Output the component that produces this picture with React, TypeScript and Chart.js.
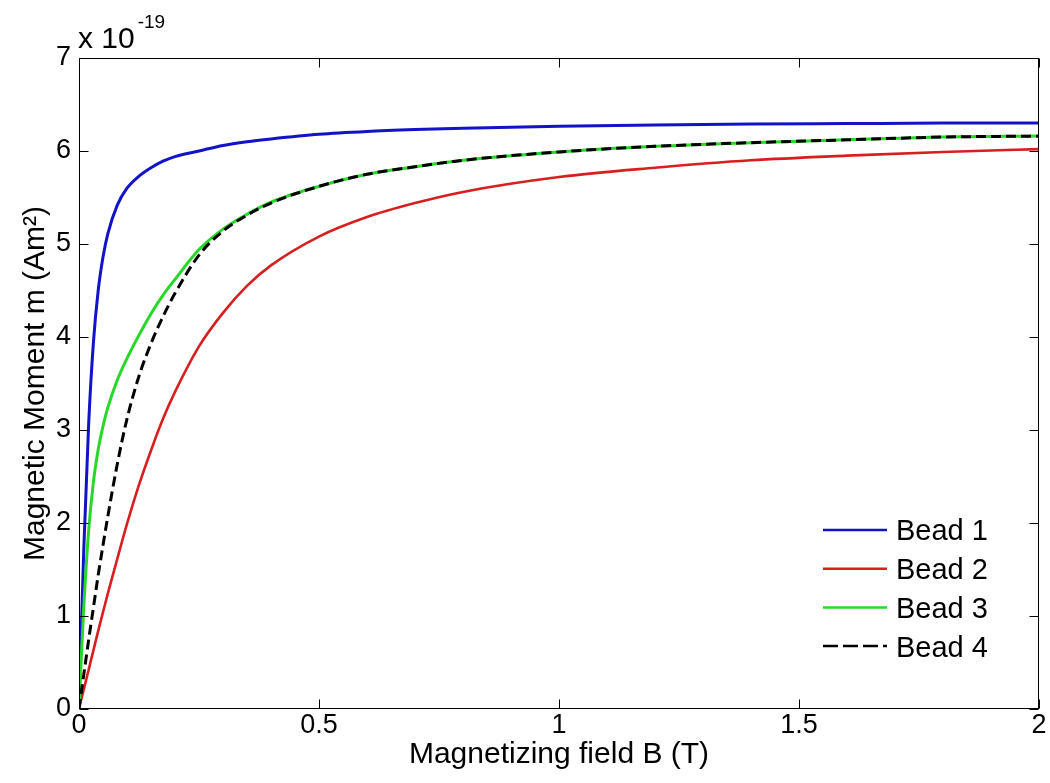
import React, { useEffect, useRef } from "react";
import { Chart, registerables } from "chart.js";

Chart.register(...registerables);

// Magnetizing field B (T)
const fieldB = [
  0, 0.005, 0.01, 0.02, 0.03, 0.04, 0.05, 0.06, 0.08, 0.1, 0.125, 0.15, 0.175, 0.2,
  0.25, 0.3, 0.35, 0.4, 0.5, 0.6, 0.7, 0.8, 1.0, 1.2, 1.4, 1.6, 1.8, 2.0,
];

// Magnetic moment m, in units of 1e-19 A·m²
const bead1 = [
  0, 0.89, 1.72, 3.05, 3.94, 4.5, 4.86, 5.11, 5.42, 5.6, 5.73, 5.82, 5.89, 5.94,
  6.0, 6.06, 6.1, 6.13, 6.18, 6.21, 6.23, 6.245, 6.265, 6.28, 6.29, 6.295, 6.3, 6.3,
];
const bead2 = [
  0, 0.11, 0.21, 0.42, 0.63, 0.84, 1.04, 1.24, 1.62, 1.99, 2.41, 2.78, 3.12, 3.41,
  3.9, 4.26, 4.55, 4.77, 5.08, 5.29, 5.44, 5.56, 5.72, 5.82, 5.9, 5.95, 5.99, 6.02,
];
const bead3 = [
  0, 0.57, 1.1, 1.91, 2.44, 2.79, 3.04, 3.24, 3.54, 3.77, 4.02, 4.25, 4.45, 4.62,
  4.94, 5.16, 5.32, 5.45, 5.62, 5.75, 5.83, 5.9, 5.99, 6.05, 6.09, 6.12, 6.15, 6.16,
];
const bead4 = [
  0, 0.19, 0.37, 0.74, 1.09, 1.44, 1.76, 2.07, 2.64, 3.12, 3.58, 3.93, 4.22, 4.47,
  4.88, 5.14, 5.31, 5.44, 5.62, 5.75, 5.83, 5.9, 5.99, 6.05, 6.09, 6.12, 6.15, 6.16,
];

const seriesLabels = ["Bead 1", "Bead 2", "Bead 3", "Bead 4"];
const xTitle = "Magnetizing field B (T)";
const yTitle = "Magnetic Moment m (Am²)";
const exponentBase = "x 10";
const exponentPower = "-19";

const FONT = '"Liberation Sans", Arial, Helvetica, sans-serif';

const toPoints = (ys: number[]) => fieldB.map((x, i) => ({ x, y: ys[i] }));

// Boxed axes with inward ticks, the exponent note and an in-axes legend
const boxedAxes = {
  id: "boxedAxes",
  afterDraw(chart: any) {
    const { ctx, chartArea: a, scales } = chart;
    ctx.save();
    const L = Math.round(a.left) + 0.5;
    const R = Math.round(a.right) - 0.5;
    const T = Math.round(a.top) + 0.5;
    const B = Math.round(a.bottom) - 0.5;
    ctx.strokeStyle = "#000";
    ctx.lineWidth = 1;
    ctx.strokeRect(L, T, R - L, B - T);

    const tickLen = 9;
    ctx.beginPath();
    scales.x.ticks.forEach((t: any) => {
      const px = Math.round(scales.x.getPixelForValue(t.value)) + 0.5;
      ctx.moveTo(px, B);
      ctx.lineTo(px, B - tickLen);
      ctx.moveTo(px, T);
      ctx.lineTo(px, T + tickLen);
    });
    scales.y.ticks.forEach((t: any) => {
      const py = Math.round(scales.y.getPixelForValue(t.value)) + 0.5;
      ctx.moveTo(L, py);
      ctx.lineTo(L + tickLen, py);
      ctx.moveTo(R, py);
      ctx.lineTo(R - tickLen, py);
    });
    ctx.stroke();

    // exponent note above the y axis
    ctx.fillStyle = "#000";
    ctx.textAlign = "left";
    ctx.textBaseline = "alphabetic";
    ctx.font = `30px ${FONT}`;
    ctx.fillText(exponentBase, a.left - 1, a.top - 10);
    const w = ctx.measureText(exponentBase).width;
    ctx.font = `19px ${FONT}`;
    ctx.fillText(exponentPower, a.left - 1 + w + 3, a.top - 30);

    // legend, lower right inside the axes
    const rowGap = 38.7;
    const firstRow = a.bottom - 179;
    const lineStart = a.right - 216;
    const lineEnd = a.right - 152;
    const textX = a.right - 143;
    ctx.font = `29px ${FONT}`;
    chart.data.datasets.forEach((ds: any, i: number) => {
      const y = firstRow + i * rowGap;
      ctx.beginPath();
      ctx.strokeStyle = ds.borderColor;
      ctx.lineWidth = 2.5;
      ctx.setLineDash(ds.borderDash && ds.borderDash.length ? [15, 5] : []);
      ctx.moveTo(lineStart, y);
      ctx.lineTo(lineEnd, y);
      ctx.stroke();
      ctx.setLineDash([]);
      ctx.fillStyle = "#000";
      ctx.fillText(ds.label, textX, y + 10.4);
    });
    ctx.restore();
  },
};

export default function App() {
  const canvasRef = useRef<HTMLCanvasElement>(null);

  useEffect(() => {
    const prevMargin = document.body.style.margin;
    document.body.style.margin = "0";
    const canvas = canvasRef.current!;
    const common = {
      pointRadius: 0,
      fill: false,
      borderWidth: 3,
      cubicInterpolationMode: "monotone" as const,
    };
    const chart = new Chart(canvas, {
      type: "line",
      data: {
        datasets: [
          { ...common, label: seriesLabels[0], data: toPoints(bead1), borderColor: "#1212c8", order: 3 },
          { ...common, label: seriesLabels[1], data: toPoints(bead2), borderColor: "#d81e1e", borderWidth: 2.6, order: 2 },
          { ...common, label: seriesLabels[2], data: toPoints(bead3), borderColor: "#28d828", order: 1 },
          { ...common, label: seriesLabels[3], data: toPoints(bead4), borderColor: "#000000", borderDash: [10, 5], order: 0 },
        ],
      },
      options: {
        responsive: false,
        animation: false,
        events: [],
        layout: { padding: { left: 0, top: 58, right: 11, bottom: 0 } },
        plugins: { legend: { display: false }, tooltip: { enabled: false } },
        scales: {
          x: {
            type: "linear",
            min: 0,
            max: 2,
            afterFit: (s: any) => {
              s.height = 74;
            },
            grid: { display: false, drawTicks: false },
            border: { display: false },
            ticks: {
              stepSize: 0.5,
              autoSkip: false,
              maxRotation: 0,
              padding: 0,
              color: "#000",
              font: { family: FONT, size: 27 },
              callback: (v: any) => String(Number(v)),
            },
            title: {
              display: true,
              text: xTitle,
              color: "#000",
              font: { family: FONT, size: 30 },
              padding: { top: 0, bottom: 10 },
            },
          },
          y: {
            type: "linear",
            min: 0,
            max: 7,
            afterFit: (s: any) => {
              s.width = 79;
            },
            grid: { display: false, drawTicks: false },
            border: { display: false },
            ticks: {
              stepSize: 1,
              autoSkip: false,
              padding: 8,
              color: "#000",
              font: { family: FONT, size: 27 },
              callback: (v: any) => String(Number(v)),
            },
            title: {
              display: true,
              text: yTitle,
              color: "#000",
              font: { family: FONT, size: 30 },
              padding: { top: 18, bottom: 0 },
            },
          },
        },
      },
      plugins: [boxedAxes],
    });
    return () => {
      chart.destroy();
      document.body.style.margin = prevMargin;
    };
  }, []);

  return (
    <div style={{ width: 1050, height: 783, background: "#fff" }}>
      <canvas ref={canvasRef} width={1050} height={783} style={{ display: "block" }} />
    </div>
  );
}
